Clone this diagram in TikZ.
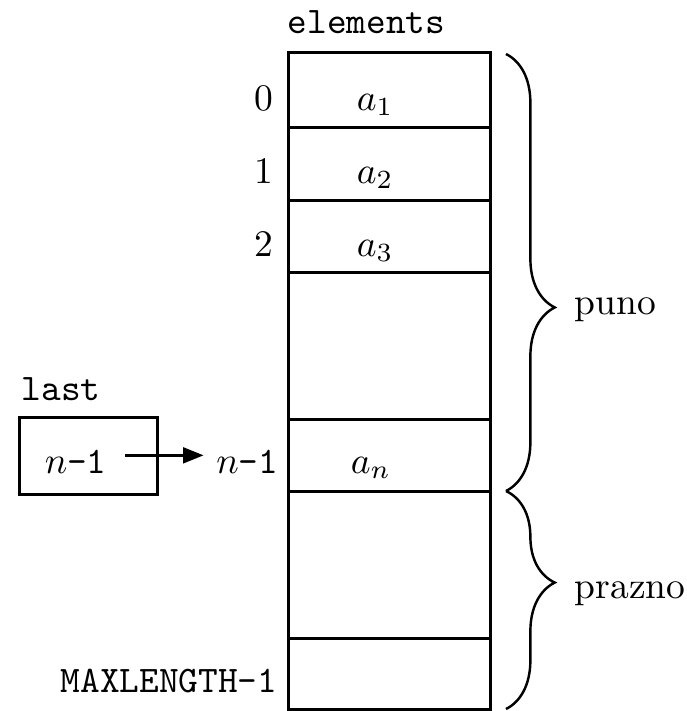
\documentclass[tikz,border=0pt]{standalone}
\usetikzlibrary{decorations.pathreplacing,arrows.meta}
\begin{document}
\begin{tikzpicture}[x=0.2667pt,y=-0.2667pt,
  box/.style={line width=0.8pt},
  lbl/.style={inner sep=0pt,anchor=base east},
  val/.style={inner sep=0pt,anchor=base west},
  brc/.style={line width=0.65pt,decorate,decoration={brace,amplitude=13pt}},
  arr/.style={line width=0.75pt,-{Triangle[length=5.5pt,width=4.2pt]}}]
\useasboundingbox (0,0) rectangle (687,711);
% array
\draw[box] (288,52) rectangle (490,709);
\foreach \yy in {127,200,272,419,491,638}{\draw[box] (288,\yy) -- (490,\yy);}
\node[val] (elem) at (287,33) {\ttfamily elements};
% indices
\node[lbl] (i0) at (274,110) {0};
\node[lbl] (i1) at (274,183) {1};
\node[lbl] (i2) at (274,256) {2};
\node[lbl] (in) at (279,473) {$n$\texttt{-1}};
\node[lbl] (imax) at (278,692) {\ttfamily MAXLENGTH-1};
% values
\node[val] (a1) at (356,110) {$a_1$};
\node[val] (a2) at (356,183) {$a_2$};
\node[val] (a3) at (356,256) {$a_3$};
\node[val] (an) at (350,473) {$a_n$};
% last
\node[val] (lastlbl) at (21,400) {\ttfamily last};
\draw[box] (19,417) rectangle (157,494);
\node[val] (lastval) at (44,473) {$n$\texttt{-1}};
\draw[arr] ([xshift=4.8pt,yshift=1.6pt]lastval.east) -- ([xshift=-3.2pt,yshift=1.6pt]in.west);
% braces
\draw[brc,decoration={aspect=0.58}] (506,54) -- (506,491);
\draw[brc,decoration={aspect=0.42}] (506,491) -- (506,709);
\node[val] (puno) at (574,314) {puno};
\node[val] (prazno) at (574,598) {prazno};
\end{tikzpicture}
\end{document}
